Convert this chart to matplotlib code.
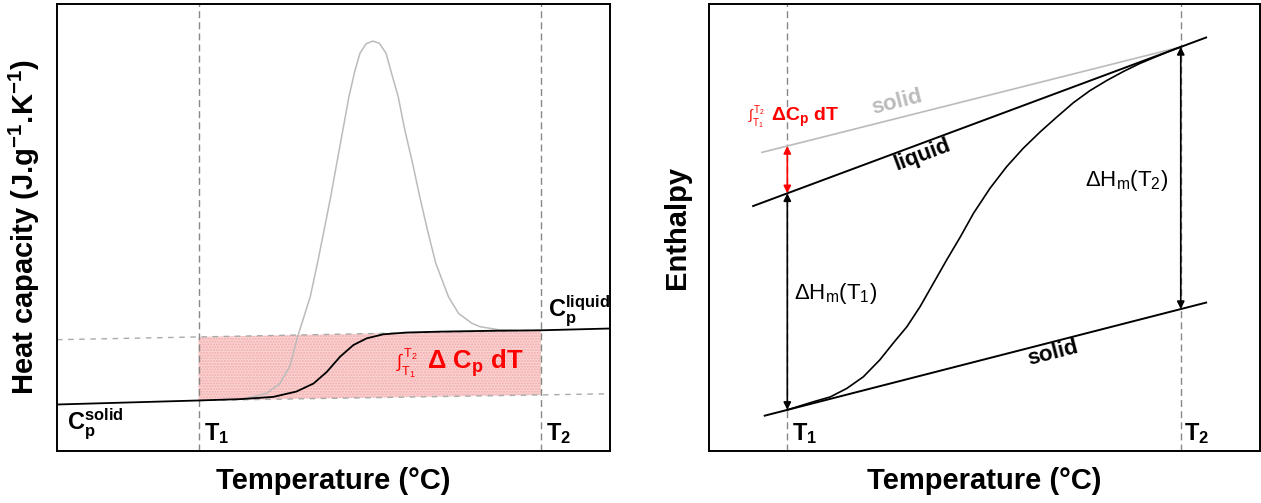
"""
Heat capacity / enthalpy schematic of melting (two panels)
"""

import matplotlib.pyplot as plt
import numpy as np

plt.rcParams['font.family'] = ['Liberation Sans', 'DejaVu Sans']
plt.rcParams['mathtext.fontset'] = 'custom'
plt.rcParams['mathtext.rm'] = 'Liberation Sans'
plt.rcParams['mathtext.it'] = 'Liberation Sans'
plt.rcParams['mathtext.bf'] = 'Liberation Sans:bold'

# ---- left panel: heat capacity (arbitrary units, 0-100) ----
T1_left = 25.6
T2_left = 87.5

cp_x = [0, 25.6, 33.1, 39.1, 43.3, 46.4, 48.8, 51.2, 53.6, 56.0, 59.0, 63.2, 69.3, 79.1, 87.5, 100]
cp_y = [10.4, 11.3, 11.6, 12.1, 13.3, 15.1, 17.7, 21.1, 23.7, 25.2, 26.1, 26.5, 26.7, 26.9, 27.0, 27.4]

peak_x = [33.1, 34.3, 37.9, 40.3, 42.1, 43.6, 45.8, 47.1, 48.3, 49.5, 50.6, 51.7, 52.8,
          53.9, 54.8, 55.9, 57.1, 58.3, 59.5, 60.5, 61.7, 62.9, 64.3, 65.6, 67.0, 68.5,
          70.8, 72.6, 75.0, 76.5, 80.0, 83.0]
peak_y = [11.6, 11.8, 12.9, 15.1, 18.9, 25.9, 34.5, 42.0, 49.4, 56.9, 64.4, 71.8, 79.3,
          85.2, 89.0, 91.1, 91.7, 91.2, 89.0, 84.5, 79.3, 71.8, 64.4, 56.9, 49.4, 42.0,
          34.5, 30.8, 28.6, 27.8, 27.1, 26.95]

cp_liq_x = [0, 87.5]
cp_liq_y = [24.9, 27.0]
cp_sol_x = [25.6, 100]
cp_sol_y = [11.3, 12.8]

# ---- right panel: enthalpy (arbitrary units, 0-100) ----
T1_right = 14.2
T2_right = 85.6

liq_x = [8.0, 90.2]
liq_y = [54.8, 92.5]
sol_x = [10.1, 90.2]
sol_y = [7.9, 33.2]
sol_ext_x = [9.6, 85.6]
sol_ext_y = [66.8, 90.4]

h_x = [14.2, 18.9, 22.0, 25.0, 28.0, 31.0, 33.4, 35.9, 38.3, 40.7, 43.1, 45.6, 48.0,
       51.0, 54.0, 57.0, 60.1, 63.1, 66.1, 69.1, 72.2, 75.2, 78.2, 81.3, 84.3, 85.6]
h_y = [9.2, 11.0, 12.1, 14.0, 16.6, 20.4, 24.1, 27.8, 32.3, 37.5, 42.7, 47.9, 53.2,
       58.8, 63.6, 67.7, 71.4, 74.7, 77.9, 80.6, 82.9, 84.9, 86.7, 88.3, 89.8, 90.4]

fig = plt.figure(figsize=(12.61, 5.03), dpi=100)
ax1 = fig.add_axes([0.0452, 0.1034, 0.4385, 0.8887])
ax2 = fig.add_axes([0.5623, 0.1034, 0.4370, 0.8887])

for ax in (ax1, ax2):
    ax.set_xlim(0, 100)
    ax.set_ylim(0, 100)
    ax.set_xticks([])
    ax.set_yticks([])
    for s in ax.spines.values():
        s.set_linewidth(1.4)
        s.set_color('black')
    ax.set_xlabel('Temperature (°C)', fontsize=21, fontweight='bold')
    ax.xaxis.set_label_coords(0.5, -0.035)

# ================= left =================
red = '#ff0000'
for t in (T1_left, T2_left):
    ax1.axvline(t, color='#888888', lw=1, dashes=(5, 3))

sol_top = np.interp([T1_left, T2_left], cp_liq_x, cp_liq_y)
sol_bot = np.interp([T1_left, T2_left], cp_sol_x, cp_sol_y)
ax1.fill_between([T1_left, T2_left], sol_bot, sol_top, facecolor='#fbd3d3',
                 edgecolor='#f2aaaa', hatch='......', lw=0, zorder=1)

ax1.plot(cp_liq_x, cp_liq_y, color='#aaaaaa', lw=1, dashes=(4, 4), zorder=2)
ax1.plot(cp_sol_x, cp_sol_y, color='#aaaaaa', lw=1, dashes=(4, 4), zorder=2)
ax1.plot(peak_x, peak_y, color='#bbbbbb', lw=1.1, zorder=3, solid_joinstyle='round')
ax1.plot(cp_x, cp_y, color='black', lw=1.3, zorder=4, solid_joinstyle='round')

ax1.text(1.8, 4.7, r'$\mathbf{C_p^{solid}}$', fontsize=17, va='baseline')
ax1.text(88.8, 30.0, r'$\mathbf{C_p^{liquid}}$', fontsize=17, va='baseline')
ax1.text(26.6, 2.5, r'$\mathbf{T_1}$', fontsize=17, va='baseline')
ax1.text(88.4, 2.5, r'$\mathbf{T_2}$', fontsize=17, va='baseline')
ax1.text(61.3, 19.7, r'$\int_{T_1}^{T_2}$', fontsize=13, color=red, va='center')
ax1.text(67.0, 19.7, r'$\mathbf{\Delta\ C_p\ dT}$', fontsize=18.5, color=red, va='center')

ax1.set_ylabel(r'Heat capacity (J.g$^{\mathbf{-1}}$.K$^{\mathbf{-1}}$)', fontsize=21, fontweight='bold')
ax1.yaxis.set_label_coords(-0.027, 0.5)

# ================= right =================
for t in (T1_right, T2_right):
    ax2.axvline(t, color='#888888', lw=1, dashes=(5, 3))

ax2.plot(sol_ext_x, sol_ext_y, color='#bbbbbb', lw=1.2)
ax2.plot(liq_x, liq_y, color='black', lw=1.4)
ax2.plot(sol_x, sol_y, color='black', lw=1.4)
ax2.plot(h_x, h_y, color='black', lw=1.2, solid_joinstyle='round')

liq_t1, liq_t2 = np.interp([T1_right, T2_right], liq_x, liq_y)
sol_t1, sol_t2 = np.interp([T1_right, T2_right], sol_x, sol_y)
ext_t1 = np.interp(T1_right, sol_ext_x, sol_ext_y)

arrow = dict(arrowstyle='<|-|>', color='black', lw=1.2, mutation_scale=11,
             shrinkA=0, shrinkB=0)
ax2.annotate('', xy=(T1_right, sol_t1), xytext=(T1_right, liq_t1), arrowprops=arrow)
ax2.annotate('', xy=(T2_right, sol_t2), xytext=(T2_right, liq_t2), arrowprops=arrow)
ax2.annotate('', xy=(T1_right, liq_t1), xytext=(T1_right, ext_t1),
             arrowprops=dict(arrow, color=red))

ax2.text(15.4, 35.3, r'$\Delta$H$_\mathregular{m}$(T$_\mathregular{1}$)', fontsize=16, va='center')
ax2.text(83.4, 60.6, r'$\Delta$H$_\mathregular{m}$(T$_\mathregular{2}$)', fontsize=16,
         va='center', ha='right')

ang_liq = np.degrees(np.arctan2(liq_y[1] - liq_y[0], liq_x[1] - liq_x[0]))
ang_sol = np.degrees(np.arctan2(sol_y[1] - sol_y[0], sol_x[1] - sol_x[0]))
ang_ext = np.degrees(np.arctan2(sol_ext_y[1] - sol_ext_y[0], sol_ext_x[1] - sol_ext_x[0]))
ax2.text(38.8, 66.2, 'liquid', fontsize=16, fontweight='bold', ha='center', va='center',
         rotation=ang_liq, rotation_mode='anchor', transform_rotates_text=True)
ax2.text(34.1, 78.1, 'solid', fontsize=16, fontweight='bold', color='#bbbbbb', ha='center',
         va='center', rotation=ang_ext, rotation_mode='anchor', transform_rotates_text=True)
ax2.text(62.4, 21.9, 'solid', fontsize=16, fontweight='bold', ha='center', va='center',
         rotation=ang_sol, rotation_mode='anchor', transform_rotates_text=True)

ax2.text(7.1, 74.7, r'$\int_{T_1}^{T_2}$', fontsize=10, color=red, va='center')
ax2.text(11.3, 74.7, r'$\mathbf{\Delta C_p\ dT}$', fontsize=14, color=red, va='center')

ax2.text(15.1, 2.5, r'$\mathbf{T_1}$', fontsize=17, va='baseline')
ax2.text(86.2, 2.5, r'$\mathbf{T_2}$', fontsize=17, va='baseline')

ax2.set_ylabel('Enthalpy', fontsize=21, fontweight='bold')
ax2.yaxis.set_label_coords(-0.033, 0.5)

plt.savefig('out.png', dpi=100)
